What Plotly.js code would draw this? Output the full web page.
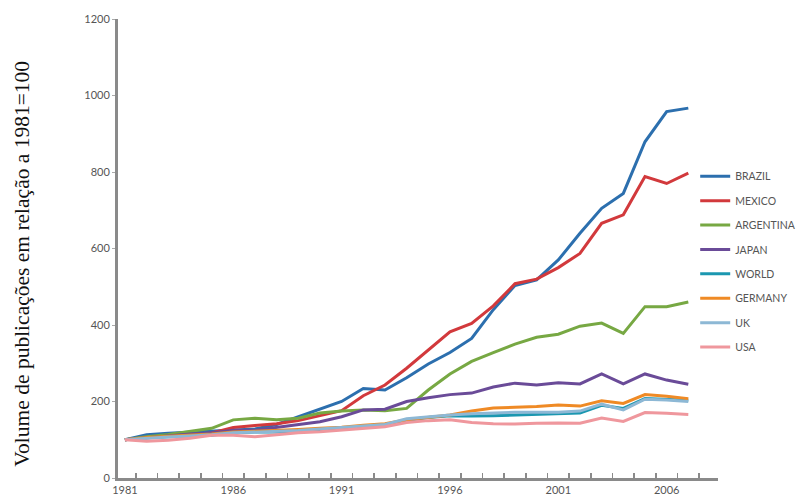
<!DOCTYPE html>
<html>
<head>
<meta charset="utf-8">
<script src="https://cdn.plot.ly/plotly-3.0.1.min.js"></script>
<style>html,body{margin:0;padding:0;background:#fff;}#chart{width:801px;height:499px;}</style>
</head>
<body>
<div id="chart"></div>
<script>
const years = [1981,1982,1983,1984,1985,1986,1987,1988,1989,1990,1991,1992,1993,1994,1995,1996,1997,1998,1999,2000,2001,2002,2003,2004,2005,2006,2007];
const brazil    = [100,113,117,120,122,125,128,140,160,182,200,234,230,262,298,328,365,440,503,518,570,640,705,744,879,958,967];
const mexico    = [100,106,110,112,118,132,137,142,150,163,176,215,243,287,335,382,404,450,508,520,550,587,666,688,788,770,797];
const argentina = [100,108,114,122,130,152,156,152,156,170,175,178,176,182,230,272,305,328,350,368,376,397,405,378,448,448,460];
const japan     = [100,105,110,115,118,125,125,132,140,147,160,178,180,200,210,218,222,238,248,243,249,246,272,246,272,256,245];
const world     = [100,105,108,110,112,118,120,120,123,126,130,135,138,150,158,163,162,163,165,167,168,170,190,182,208,205,203];
const uk        = [100,104,107,110,113,118,120,121,124,128,132,137,140,155,160,165,168,170,172,172,172,175,193,178,206,204,200];
const germany   = [100,106,109,112,115,120,122,124,127,130,133,138,142,152,158,165,175,183,185,187,191,188,202,195,218,214,207];
const usa       = [100,96,99,104,112,112,108,113,118,121,125,130,134,145,150,152,145,142,141,143,144,143,157,148,171,169,166];

const seriesNames = ["BRAZIL","MEXICO","ARGENTINA","JAPAN","WORLD","GERMANY","UK","USA"];
const seriesData = [brazil, mexico, argentina, japan, world, germany, uk, usa];
const seriesColors = ["#2c6fae","#d2393c","#77a843","#6a4b98","#1b97b0","#ef8a25","#8db8d5","#ef979d"];

const xTickVals = [1981,1986,1991,1996,2001,2006];
const xMinorTicks = [1981.5,1982.5,1983.5,1984.5,1985.5,1986.5,1987.5,1988.5,1989.5,1990.5,1991.5,1992.5,1993.5,1994.5,1995.5,1996.5,1997.5,1998.5,1999.5,2000.5,2001.5,2002.5,2003.5,2004.5,2005.5,2006.5,2007.5];
const yTickVals = [0,200,400,600,800,1000,1200];
const yTitle = "Volume de publicações em relação a 1981=100";

const traces = seriesNames.map((n,i)=>({
  x: years, y: seriesData[i], name: n, type: 'scatter', mode: 'lines',
  legendgroup: n,
  line: {color: seriesColors[i], width: 3}
}));

const xr = [1980.68, 2008.37];
const layout = {
  width: 801, height: 499,
  margin: {l:118, r:83, t:19, b:21, pad:0, autoexpand: false},
  paper_bgcolor: '#fff', plot_bgcolor: '#fff',
  showlegend: true,
  legend: {x: 0.962, xanchor: 'left', y: 0.689, yanchor: 'top', traceorder: 'grouped', tracegroupgap: 5.4,
           font: {family: 'Lato, "Open Sans", sans-serif', size: 10.5, color: '#555'}, bgcolor: 'rgba(0,0,0,0)'},
  xaxis: {range: xr, tickvals: xTickVals, ticktext: xTickVals.map(String), ticks: 'inside', ticklen: 1, tickcolor: 'rgba(0,0,0,0)',
          showgrid: false, zeroline: false,
          showline: true, linecolor: '#8a8a8a', linewidth: 3, automargin: false,
          minor: {tickvals: xMinorTicks, ticks: 'inside', ticklen: 5, tickwidth: 1.5, tickcolor: '#8a8a8a', showgrid: false},
          tickfont: {family: 'Lato, "Open Sans", sans-serif', size: 11, color: '#555'}},
  yaxis: {range: [0,1200], tickvals: yTickVals, ticks: 'outside', ticklen: 3, tickwidth: 1, tickcolor: '#aaa',
          showgrid: false, zeroline: false, showline: true, linecolor: '#8a8a8a', linewidth: 3, automargin: false,
          tickfont: {family: 'Lato, "Open Sans", sans-serif', size: 11, color: '#555'}},
  annotations: [{text: yTitle, xref: 'paper', yref: 'paper', x: -0.16, y: 0.467, xanchor: 'center', yanchor: 'middle',
                 textangle: -90, showarrow: false, font: {family: '"Liberation Serif", "Times New Roman", serif', size: 21.5, color: '#111'}}]
};
Plotly.newPlot('chart', traces, layout, {displayModeBar: false, staticPlot: true});
</script>
</body>
</html>
